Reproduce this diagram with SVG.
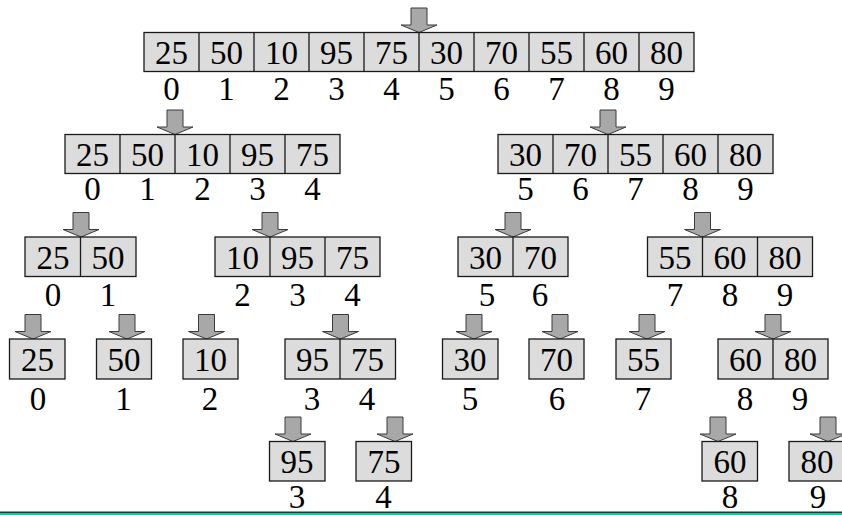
<svg xmlns="http://www.w3.org/2000/svg" width="842" height="515" viewBox="0 0 842 515">
<style>
.c{fill:#dcdcdc;stroke:#1a1a1a;stroke-width:1.3}
.d{stroke:#1a1a1a;stroke-width:1.3}
.v{font-family:"Liberation Serif","Times New Roman",serif;font-size:33px;fill:#000;text-anchor:middle}
.a{fill:#a8a8a8;stroke:#3a3a3a;stroke-width:1}
</style>
<defs>
<path id="arr" class="a" d="M-8,0 h16 v17 h10 l-18,7.5 l-18,-7.5 h10 z"/>
</defs>
<rect width="842" height="515" fill="#fff"/>

<g id="connectors">
<use href="#arr" x="419" y="8"/>
<use href="#arr" x="175" y="110"/>
<use href="#arr" x="608" y="110"/>
<use href="#arr" x="81" y="212.5"/>
<use href="#arr" x="270" y="212.5"/>
<use href="#arr" x="513" y="212.5"/>
<use href="#arr" x="702.5" y="212.5"/>
<use href="#arr" x="33" y="314.5"/>
<use href="#arr" x="127" y="314.5"/>
<use href="#arr" x="206.5" y="314.5"/>
<use href="#arr" x="340.5" y="314.5"/>
<use href="#arr" x="474" y="314.5"/>
<use href="#arr" x="560" y="314.5"/>
<use href="#arr" x="647" y="314.5"/>
<use href="#arr" x="773" y="314.5"/>
<use href="#arr" x="293" y="417"/>
<use href="#arr" x="395" y="417"/>
<use href="#arr" x="718" y="417"/>
<use href="#arr" x="828" y="417"/>
</g>

<g id="row1">
<rect class="c" x="144" y="32.5" width="550" height="39"/>
<path class="d" d="M199,32.5V71.5M254,32.5V71.5M309,32.5V71.5M364,32.5V71.5M419,32.5V71.5M474,32.5V71.5M529,32.5V71.5M584,32.5V71.5M639,32.5V71.5"/>
<g class="v">
<text x="171.5" y="63.5">25</text><text x="226.5" y="63.5">50</text><text x="281.5" y="63.5">10</text><text x="336.5" y="63.5">95</text><text x="391.5" y="63.5">75</text>
<text x="446.5" y="63.5">30</text><text x="501.5" y="63.5">70</text><text x="556.5" y="63.5">55</text><text x="611.5" y="63.5">60</text><text x="666.5" y="63.5">80</text>
<text x="171.5" y="100">0</text><text x="226.5" y="100">1</text><text x="281.5" y="100">2</text><text x="336.5" y="100">3</text><text x="391.5" y="100">4</text>
<text x="446.5" y="100">5</text><text x="501.5" y="100">6</text><text x="556.5" y="100">7</text><text x="611.5" y="100">8</text><text x="666.5" y="100">9</text>
</g>
</g>

<g id="row2-left">
<rect class="c" x="65" y="134.5" width="275" height="39"/>
<path class="d" d="M120,134.5V173.5M175,134.5V173.5M230,134.5V173.5M285,134.5V173.5"/>
<g class="v">
<text x="92.5" y="165.5">25</text><text x="147.5" y="165.5">50</text><text x="202.5" y="165.5">10</text><text x="257.5" y="165.5">95</text><text x="312.5" y="165.5">75</text>
<text x="92.5" y="200">0</text><text x="147.5" y="200">1</text><text x="202.5" y="200">2</text><text x="257.5" y="200">3</text><text x="312.5" y="200">4</text>
</g>
</g>

<g id="row2-right">
<rect class="c" x="498" y="134.5" width="275" height="39"/>
<path class="d" d="M553,134.5V173.5M608,134.5V173.5M663,134.5V173.5M718,134.5V173.5"/>
<g class="v">
<text x="525.5" y="165.5">30</text><text x="580.5" y="165.5">70</text><text x="635.5" y="165.5">55</text><text x="690.5" y="165.5">60</text><text x="745.5" y="165.5">80</text>
<text x="525.5" y="200">5</text><text x="580.5" y="200">6</text><text x="635.5" y="200">7</text><text x="690.5" y="200">8</text><text x="745.5" y="200">9</text>
</g>
</g>

<g id="row3-a">
<rect class="c" x="25" y="237" width="111" height="39.5"/>
<path class="d" d="M80.5,237V276.5"/>
<g class="v">
<text x="53" y="268.5">25</text><text x="108" y="268.5">50</text>
<text x="53" y="306">0</text><text x="108" y="306">1</text>
</g>
</g>

<g id="row3-b">
<rect class="c" x="215" y="237" width="165" height="39.5"/>
<path class="d" d="M270,237V276.5M325,237V276.5"/>
<g class="v">
<text x="242.5" y="268.5">10</text><text x="297.5" y="268.5">95</text><text x="352.5" y="268.5">75</text>
<text x="242.5" y="306">2</text><text x="297.5" y="306">3</text><text x="352.5" y="306">4</text>
</g>
</g>

<g id="row3-c">
<rect class="c" x="458" y="237" width="110" height="39.5"/>
<path class="d" d="M513,237V276.5"/>
<g class="v">
<text x="485.5" y="268.5">30</text><text x="540.5" y="268.5">70</text>
<text x="487" y="306">5</text><text x="540" y="306">6</text>
</g>
</g>

<g id="row3-d">
<rect class="c" x="647.5" y="237" width="165" height="39.5"/>
<path class="d" d="M702.5,237V276.5M757.5,237V276.5"/>
<g class="v">
<text x="675" y="268.5">55</text><text x="730" y="268.5">60</text><text x="785" y="268.5">80</text>
<text x="675" y="306">7</text><text x="730" y="306">8</text><text x="785" y="306">9</text>
</g>
</g>

<g id="leaf-25">
<rect class="c" x="9.5" y="339" width="55.5" height="40"/>
<text class="v" x="37.5" y="370.5">25</text><text class="v" x="38" y="410">0</text>
</g>
<g id="leaf-50">
<rect class="c" x="96.5" y="339" width="55" height="40"/>
<text class="v" x="124" y="370.5">50</text><text class="v" x="123.5" y="410">1</text>
</g>
<g id="leaf-10">
<rect class="c" x="183" y="339" width="55" height="40"/>
<text class="v" x="210.5" y="370.5">10</text><text class="v" x="210" y="410">2</text>
</g>
<g id="row4-pair-95-75">
<rect class="c" x="285" y="339" width="110.5" height="40"/>
<path class="d" d="M340,339V379"/>
<g class="v">
<text x="312.5" y="370.5">95</text><text x="367.5" y="370.5">75</text>
<text x="312" y="410">3</text><text x="367" y="410">4</text>
</g>
</g>
<g id="leaf-30">
<rect class="c" x="442.5" y="339" width="55.5" height="40"/>
<text class="v" x="470" y="370.5">30</text><text class="v" x="470" y="410">5</text>
</g>
<g id="leaf-70">
<rect class="c" x="529" y="339" width="55" height="40"/>
<text class="v" x="556.5" y="370.5">70</text><text class="v" x="557" y="410">6</text>
</g>
<g id="leaf-55">
<rect class="c" x="616" y="339" width="55" height="40"/>
<text class="v" x="643.5" y="370.5">55</text><text class="v" x="643" y="410">7</text>
</g>
<g id="row4-pair-60-80">
<rect class="c" x="718" y="339" width="110" height="40"/>
<path class="d" d="M773,339V379"/>
<g class="v">
<text x="745.5" y="370.5">60</text><text x="800.5" y="370.5">80</text>
<text x="745" y="410">8</text><text x="800" y="410">9</text>
</g>
</g>

<g id="leaf-95">
<rect class="c" x="269.5" y="441.5" width="55.5" height="39.5"/>
<text class="v" x="297" y="473">95</text><text class="v" x="297" y="508">3</text>
</g>
<g id="leaf-75">
<rect class="c" x="356" y="441.5" width="55.5" height="39.5"/>
<text class="v" x="384" y="473">75</text><text class="v" x="383.5" y="508">4</text>
</g>
<g id="leaf-60">
<rect class="c" x="702" y="441.5" width="55.5" height="39.5"/>
<text class="v" x="730" y="473">60</text><text class="v" x="730" y="508">8</text>
</g>
<g id="leaf-80">
<rect class="c" x="789" y="441.5" width="57" height="39.5"/>
<text class="v" x="817" y="473">80</text><text class="v" x="818" y="508">9</text>
</g>

<g id="baseline">
<rect x="0" y="511.5" width="842" height="1.5" fill="#333"/>
<rect x="0" y="513" width="842" height="2" fill="#1cc39b"/>
</g>
</svg>
